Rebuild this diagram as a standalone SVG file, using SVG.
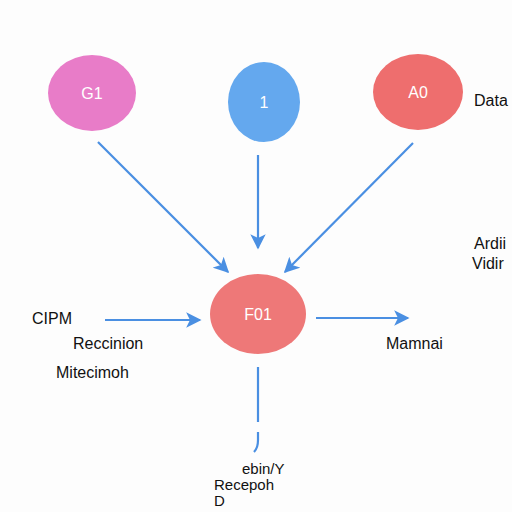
<svg xmlns="http://www.w3.org/2000/svg" width="512" height="512" viewBox="0 0 512 512">
<style>
.lbl{font-family:"Liberation Sans",Arial,sans-serif;font-size:16px;fill:#111}
.sm{font-size:15px}
.nt{font-family:"Liberation Sans",Arial,sans-serif;font-size:16px;fill:#fff;text-anchor:middle}
.edge{stroke:#4a8fe2;stroke-width:2.2;fill:none}
</style>
<defs>
<marker id="ah" viewBox="0 0 10 10" refX="9" refY="5" markerWidth="7" markerHeight="7" orient="auto" markerUnits="strokeWidth">
<path d="M0,0 L10,5 L0,10 L2.5,5 z" fill="#4a8fe2"/>
</marker>
</defs>
<rect width="512" height="512" fill="#fdfdfd"/>
<g id="connectors">
<line class="edge" x1="98" y1="142" x2="228" y2="272" marker-end="url(#ah)"/>
<line class="edge" x1="258" y1="155" x2="258" y2="248" marker-end="url(#ah)"/>
<line class="edge" x1="413" y1="143" x2="285" y2="272" marker-end="url(#ah)"/>
<line class="edge" x1="105" y1="320" x2="200" y2="320" marker-end="url(#ah)"/>
<line class="edge" x1="316" y1="318" x2="408" y2="318" marker-end="url(#ah)"/>
<path class="edge" d="M258,367 V422 M258,432 V440 Q258,448 254,452"/>
</g>
<g id="G1"><ellipse cx="92" cy="93" rx="44" ry="38" fill="#e87cc8"/><text class="nt" x="92" y="99">G1</text></g>
<g id="n1"><ellipse cx="264" cy="102" rx="36" ry="40" fill="#64a8ee"/><text class="nt" x="264" y="108">1</text></g>
<g id="A0"><ellipse cx="418" cy="92" rx="45" ry="38" fill="#ee6e6e"/><text class="nt" x="418" y="98">A0</text></g>
<g id="F01"><ellipse cx="258" cy="314" rx="48" ry="40" fill="#ee7878"/><text class="nt" x="258" y="320">F01</text></g>
<g id="labels">
<text class="lbl" x="32" y="324">CIPM</text>
<text class="lbl" x="73" y="349">Reccinion</text>
<text class="lbl" x="56" y="378">Mitecimoh</text>
<text class="lbl" x="474" y="106">Data</text>
<text class="lbl" x="474" y="249">Ardii</text>
<text class="lbl" x="472" y="269">Vidir</text>
<text class="lbl" x="386" y="349">Mamnai</text>
<text class="lbl sm" x="242" y="474">ebin/Y</text>
<text class="lbl sm" x="214" y="490">Recepoh</text>
<text class="lbl sm" x="214" y="506">D</text>
</g>
</svg>
